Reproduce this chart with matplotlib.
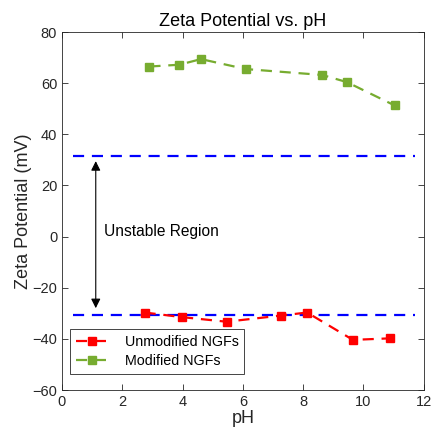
import matplotlib
matplotlib.use('Agg')
import matplotlib.pyplot as plt

plt.rcParams['font.family'] = ['Liberation Sans', 'DejaVu Sans']

ph_unmod = [2.74, 3.98, 5.46, 7.25, 8.13, 9.65, 10.88]
zeta_unmod = [-29.7, -31.5, -33.3, -30.9, -29.7, -40.4, -39.8]

ph_mod = [2.90, 3.89, 4.61, 6.10, 8.63, 9.45, 11.03]
zeta_mod = [66.5, 67.2, 69.4, 65.5, 63.2, 60.4, 51.3]

limit_x = [0.35, 11.72]
limit_upper = 31.5
limit_lower = -30.8

fig = plt.figure(figsize=(4.32, 4.36), dpi=100)
ax = fig.add_axes([0.1435, 0.1055, 0.8375, 0.8211])

ax.plot(limit_x, [limit_upper, limit_upper], '--', color='blue', lw=1.6, dashes=(5, 3.5))
ax.plot(limit_x, [limit_lower, limit_lower], '--', color='blue', lw=1.6, dashes=(5, 3.5))

ax.plot(ph_unmod, zeta_unmod, '--s', color='red', lw=1.6, ms=5.5, dashes=(5, 3.5),
        label='Unmodified NGFs')
ax.plot(ph_mod, zeta_mod, '--s', color='#77AC30', lw=1.6, ms=5.5, dashes=(5, 3.5),
        label='Modified NGFs')

ax.annotate('', xy=(1.12, 29.5), xytext=(1.12, -28),
            arrowprops=dict(arrowstyle='<|-|>', color='black', lw=0.8,
                            mutation_scale=14, shrinkA=0, shrinkB=0))
ax.text(1.38, 2.0, 'Unstable Region', fontsize=11.2, ha='left', va='center')

ax.set_xlim(0, 12)
ax.set_ylim(-60, 80)
ax.set_xticks(range(0, 13, 2))
ax.set_yticks(range(-60, 81, 20))
ax.tick_params(direction='in', top=True, right=True, labelsize=10.5,
               color='#262626', labelcolor='#262626', length=4, width=0.6)
for s in ax.spines.values():
    s.set_color('#262626')
    s.set_linewidth(0.6)

ax.set_xlabel('pH', fontsize=13, color='#262626', labelpad=1)
ax.set_ylabel('Zeta Potential (mV)', fontsize=13, color='#262626', labelpad=0)
ax.set_title('Zeta Potential vs. pH', fontsize=13, color='black', pad=4)

leg = ax.legend(loc='lower left', bbox_to_anchor=(0.022, 0.046), borderaxespad=0,
                fontsize=10.3, fancybox=False, framealpha=1, edgecolor='#262626',
                handlelength=2.3, handletextpad=1.1, labelspacing=0.3,
                borderpad=0.42)
leg.get_frame().set_linewidth(0.6)

fig.savefig('out.png', dpi=100)
